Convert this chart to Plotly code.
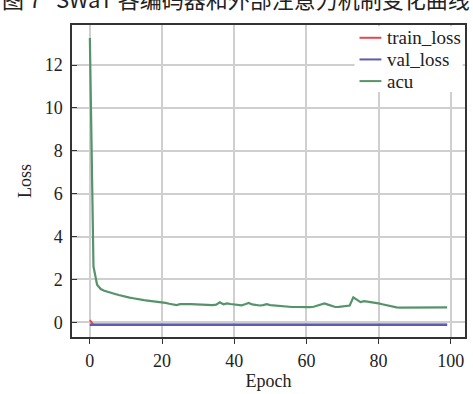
import plotly.graph_objects as go

epochs = list(range(100))

acu = [13.26, 2.6, 1.75, 1.55, 1.47, 1.41, 1.36, 1.32, 1.27, 1.22,
       1.18, 1.15, 1.12, 1.08, 1.05, 1.03, 1.01, 0.99, 0.97, 0.96,
       0.94, 0.90, 0.86, 0.83, 0.80, 0.84, 0.86, 0.85, 0.84, 0.83,
       0.82, 0.81, 0.80, 0.80, 0.80, 0.82, 0.93, 0.84, 0.88, 0.85,
       0.82, 0.80, 0.79, 0.84, 0.90, 0.83, 0.80, 0.78, 0.80, 0.84,
       0.80, 0.78, 0.76, 0.74, 0.73, 0.72, 0.71, 0.71, 0.70, 0.70,
       0.70, 0.70, 0.72, 0.78, 0.85, 0.88, 0.82, 0.76, 0.71, 0.72,
       0.74, 0.75, 0.78, 1.16, 1.05, 0.94, 0.98, 0.96, 0.94, 0.91,
       0.88, 0.84, 0.80, 0.76, 0.72, 0.69, 0.68, 0.68, 0.68, 0.69,
       0.69, 0.68, 0.68, 0.68, 0.68, 0.68, 0.68, 0.68, 0.68, 0.69]

train_loss = [0.10] + [-0.12] * 99
val_loss = [-0.12] * 100

series_names = ["train_loss", "val_loss", "acu"]
series_colors = ["#e8474a", "#5a5cb4", "#55936a"]

x_ticks = [0, 20, 40, 60, 80, 100]
y_ticks = [0, 2, 4, 6, 8, 10, 12]

caption = "图 7   SWaT 各编码器和外部注意力机制变化曲线"

SERIF = "Liberation Serif, Times New Roman, serif"

fig = go.Figure()
for name, ys, col, w in zip(series_names, [train_loss, val_loss, acu],
                            series_colors, [2, 2.5, 2.2]):
    fig.add_trace(go.Scatter(x=epochs, y=ys, mode="lines", name=name,
                             line=dict(color=col, width=w), showlegend=False))

# manual legend (paper coordinates)
shapes = [dict(type="rect", xref="paper", yref="paper",
               x0=0.719, x1=0.994, y0=0.785, y1=0.996,
               fillcolor="white", line=dict(width=0), layer="above")]
annotations = []
legend_y = [0.959, 0.8896, 0.8202]
for name, col, ly in zip(series_names, series_colors, legend_y):
    shapes.append(dict(type="line", xref="paper", yref="paper",
                       x0=0.7316, x1=0.7873, y0=ly, y1=ly,
                       line=dict(color=col, width=2), layer="above"))
    annotations.append(dict(text=name, xref="paper", yref="paper",
                            x=0.797, y=ly, xanchor="left", yanchor="middle",
                            showarrow=False,
                            font=dict(family=SERIF, size=19, color="#222")))

annotations.append(dict(text=caption, xref="paper", yref="paper",
                        x=-0.183, y=1.088, xanchor="left", yanchor="middle",
                        showarrow=False,
                        font=dict(family="Noto Sans CJK SC", size=22, color="#222")))

fig.update_layout(
    width=473, height=394,
    margin=dict(l=72, r=6, t=25, b=52),
    paper_bgcolor="white", plot_bgcolor="white",
    font=dict(family=SERIF, size=18, color="#222"),
    showlegend=False,
    shapes=shapes,
    annotations=annotations,
)

fig.update_xaxes(range=[-4.95, 103.95], tickvals=x_ticks,
                 showgrid=True, gridcolor="#cfcfcf", gridwidth=1.5,
                 zeroline=False, showline=True, linecolor="#333", linewidth=1.5,
                 mirror=True, ticks="outside", ticklen=5, tickcolor="#333",
                 ticklabelstandoff=2,
                 title=dict(text="Epoch", standoff=4, font=dict(size=18)))
fig.update_yaxes(range=[-0.69, 13.87], tickvals=y_ticks,
                 showgrid=True, gridcolor="#cfcfcf", gridwidth=1.5,
                 zeroline=False, showline=True, linecolor="#333", linewidth=1.5,
                 mirror=True, ticks="inside", ticklen=5, tickcolor="#333",
                 ticklabelstandoff=4,
                 title=dict(text="Loss", standoff=8, font=dict(size=18)))

fig.write_html("out.html")
